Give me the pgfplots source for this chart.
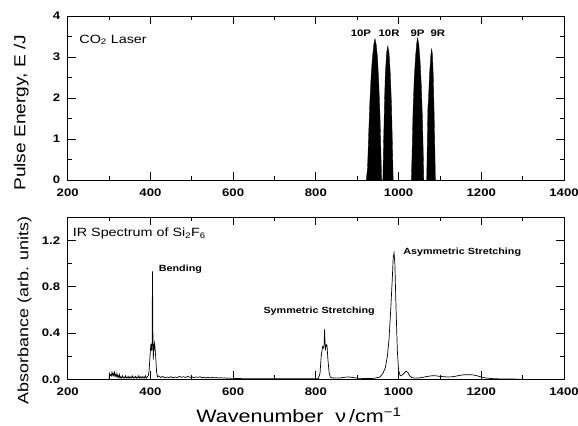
\documentclass[border=0pt]{standalone}
\usepackage{fontspec}
\setmainfont{Liberation Sans}[FakeStretch=1.2, BoldFeatures={FakeStretch=1.2}]
\usepackage{pgfplots}
\pgfplotsset{compat=1.18}

\pgfplotsset{
 myaxis/.style={
  scale only axis, width=496.3bp,
  xmin=200, xmax=1400, xtick={200,400,...,1400}, minor x tick num=1,
  major tick length=8bp, minor tick length=4bp,
  every tick/.style={black, line width=0.8bp},
  axis line style={line width=0.8bp},
  tick align=inside,
  ticklabel style={font=\bfseries\fontsize{11}{12}\selectfont},
  /pgf/number format/assume math mode=true,
  /pgf/number format/1000 sep={},
  xticklabel style={yshift=-5bp},
  yticklabel style={xshift=-4bp},
  scaled ticks=false,
 }
}

\begin{document}
\begin{tikzpicture}
% ---------------- top: CO2 laser ----------------
\begin{axis}[myaxis, at={(0,0)}, anchor=south west, height=164bp,
  ymin=0, ymax=4, ytick={0,1,2,3,4}, minor y tick num=1,
  ylabel={Pulse Energy, E /J},
  ylabel style={font=\fontsize{16}{18}\selectfont, inner sep=0pt,
    at={(axis description cs:-0.078,0.41)}, anchor=south},
]
\addplot[fill=black, draw=black, line width=0.3bp] coordinates {
(922,0)(925,0.3)(928,1.2)(931,2.0)(934,2.6)(937,3.0)(940,3.3)(943,3.45)(946,3.3)(949,3.0)(952,2.4)(955,1.6)(957,0.8)(959,0)} \closedcycle;
\addplot[fill=black, draw=black, line width=0.3bp] coordinates {
(962,0)(964,1.0)(966,1.9)(968,2.6)(971,3.1)(974,3.27)(977,3.1)(980,2.6)(983,1.8)(985,0.9)(987,0)} \closedcycle;
\addplot[fill=black, draw=black, line width=0.3bp] coordinates {
(1031,0)(1033,0.8)(1035,1.7)(1038,2.5)(1041,3.0)(1044,3.35)(1046,3.47)(1049,3.3)(1052,2.9)(1055,2.3)(1058,1.4)(1060,0.5)(1061,0)} \closedcycle;
\addplot[fill=black, draw=black, line width=0.3bp] coordinates {
(1068,0)(1070,1.2)(1071,1.8)(1072,1.9)(1075,2.6)(1078,3.05)(1080,3.2)(1082,3.05)(1084,2.5)(1086,1.6)(1088,0.6)(1089,0)} \closedcycle;
\node[anchor=west, inner sep=0pt, font=\fontsize{12}{14}\selectfont] at (axis cs:228,3.42) {CO\textsubscript{2} Laser};
\node[anchor=base, inner sep=0pt, font=\bfseries\fontsize{9.5}{10}\selectfont] at (axis cs:909,3.5) {10P};
\node[anchor=base, inner sep=0pt, font=\bfseries\fontsize{9.5}{10}\selectfont] at (axis cs:977,3.5) {10R};
\node[anchor=base, inner sep=0pt, font=\bfseries\fontsize{9.5}{10}\selectfont] at (axis cs:1046,3.5) {9P};
\node[anchor=base, inner sep=0pt, font=\bfseries\fontsize{9.5}{10}\selectfont] at (axis cs:1095,3.5) {9R};
\end{axis}

% ---------------- bottom: IR spectrum ----------------
\begin{axis}[myaxis, at={(0,-199.3bp)}, anchor=south west, height=162.3bp,
  ymin=0, ymax=1.4, ytick={0,0.4,0.8,1.2}, minor y tick num=1,
  yticklabel style={/pgf/number format/fixed, /pgf/number format/precision=1, /pgf/number format/fixed zerofill},
  ylabel={Absorbance (arb. units)},
  ylabel style={font=\fontsize{15}{17}\selectfont, inner sep=0pt,
    at={(axis description cs:-0.0725,0.424)}, anchor=south},
  xlabel={Wavenumber\ \ ν\,/cm\textsuperscript{−1}},
  xlabel style={font=\fontsize{18}{20}\selectfont, inner sep=0pt,
    at={(axis description cs:0.466,0)}, anchor=base, yshift=-43bp},
]
\addplot[black, line width=0.7bp] coordinates {
(300,0.0)(301,0.05)(303,0.035)(304,0.04)(306,0.03)(307,0.06)(309,0.035)(310,0.05)(312,0.03)(313,0.06)(315,0.03)(316,0.04)(318,0.025)(319,0.05)(321,0.02)(322,0.03)(324,0.015)(325,0.04)(327,0.015)(328,0.02)(330,0.01)(332,0.03)(334,0.012)(336,0.02)(338,0.01)(340,0.03)(342,0.012)(344,0.02)(346,0.01)(348,0.025)(350,0.01)(352,0.02)(354,0.012)(356,0.03)(358,0.01)(360,0.02)(362,0.012)(364,0.025)(366,0.01)(368,0.02)(370,0.012)(372,0.03)(374,0.01)(376,0.02)(378,0.012)(380,0.025)(382,0.01)(384,0.02)(386,0.012)(388,0.03)(390,0.01)(392,0.02)(395,0.03)
(397,0.08)(399,0.2)(401,0.3)(402,0.27)(403,0.31)(404,0.25)(405,0.93)(406,0.4)(407,0.17)(408,0.3)(409,0.27)(410,0.31)(411,0.28)(413,0.18)(415,0.06)(417,0.02)(420,0.03)
(425,0.015)(430,0.025)(435,0.012)(440,0.02)(445,0.015)(450,0.022)(455,0.012)(460,0.02)(465,0.015)(470,0.025)(475,0.018)(480,0.022)(485,0.015)(490,0.025)(495,0.018)(500,0.022)(505,0.015)(510,0.02)(515,0.017)(520,0.022)(525,0.014)(530,0.018)(535,0.012)(540,0.017)(545,0.012)(550,0.016)(555,0.012)(560,0.015)(565,0.011)(570,0.014)(575,0.01)(580,0.013)(585,0.009)(590,0.011)(595,0.008)(600,0.008)(620,0.006)(650,0.005)(700,0.004)(750,0.004)(800,0.004)
(806,0.006)(810,0.05)(813,0.2)(816,0.28)(818,0.27)(820,0.3)(821,0.43)(823,0.25)(825,0.3)(827,0.29)(829,0.18)(832,0.06)(835,0.02)(840,0.012)(850,0.01)(860,0.012)(870,0.018)(880,0.02)(890,0.015)(900,0.01)(910,0.008)(920,0.006)(940,0.008)
(955,0.02)(962,0.05)(968,0.1)(973,0.2)(977,0.35)(981,0.6)(985,0.88)(987,1.05)(989,1.09)(991,1.0)(994,0.6)(997,0.25)(1000,0.08)(1004,0.03)(1008,0.035)(1013,0.05)(1018,0.07)(1022,0.06)(1027,0.03)(1032,0.015)(1040,0.01)(1050,0.012)(1060,0.018)(1070,0.025)(1080,0.03)(1090,0.03)(1100,0.025)(1110,0.022)(1120,0.02)(1130,0.022)(1140,0.028)(1150,0.035)(1160,0.04)(1170,0.04)(1180,0.038)(1190,0.03)(1200,0.02)(1210,0.012)(1220,0.008)(1230,0.005)(1250,0.003)(1280,0.002)(1300,0.0)};
\node[anchor=west, inner sep=0pt, font=\fontsize{12}{14}\selectfont] at (axis cs:212,1.257) {IR Spectrum of Si\textsubscript{2}F\textsubscript{6}};
\node[anchor=west, inner sep=0pt, font=\bfseries\fontsize{9}{10}\selectfont] at (axis cs:420,0.95) {Bending};
\node[anchor=west, inner sep=0pt, font=\bfseries\fontsize{9}{10}\selectfont] at (axis cs:673,0.59) {Symmetric Stretching};
\node[anchor=west, inner sep=0pt, font=\bfseries\fontsize{9}{10}\selectfont] at (axis cs:1011,1.094) {Asymmetric Stretching};
\end{axis}
\pgfresetboundingbox
\path[use as bounding box] (-67.7bp,180bp) rectangle (510.3bp,-246bp);
\end{tikzpicture}
\end{document}
